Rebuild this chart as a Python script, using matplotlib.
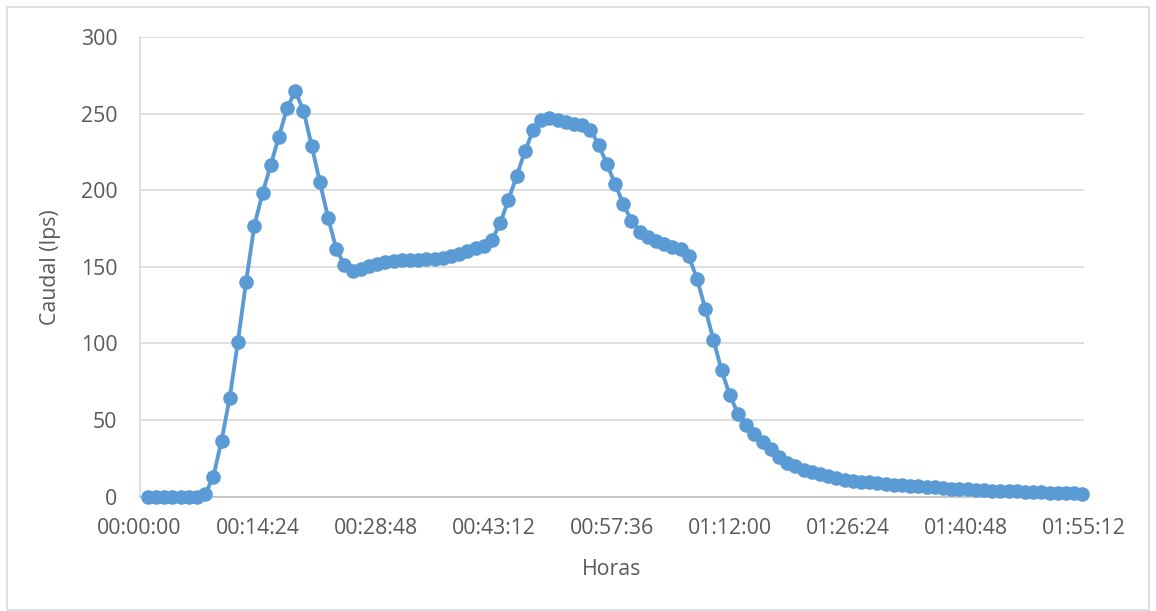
import matplotlib.pyplot as plt
import matplotlib.ticker as mticker
from matplotlib.patches import Rectangle
import numpy as np

# time in minutes (1-minute steps), flow in lps
minutes = list(range(1, 116))
caudal = [
    0, 0, 0, 0, 0, 0, 0, 1.5, 13, 36.5,
    64.6, 101.2, 140.4, 176.8, 198, 216.5, 235, 253.7, 264.6, 252,
    229, 205.3, 182, 161.7, 151, 147.6, 148.9, 150.4, 152, 153,
    153.7, 154.3, 154.5, 154.7, 155, 155.2, 155.9, 156.8, 158.5, 160.2,
    162, 163.8, 167.8, 178.5, 193.9, 209.2, 225.3, 239, 246, 247.4,
    246, 244.5, 243, 242.3, 239.5, 229.6, 217.2, 204.2, 191.1, 180.2,
    173, 169.8, 167.2, 165.1, 162.9, 161.4, 156.8, 142.2, 122.8, 102.5,
    82.4, 66.1, 54.2, 46.6, 41.1, 35.7, 30.8, 26, 22.3, 19.9,
    17.7, 16, 14.5, 13.4, 11.9, 11.2, 10.5, 9.9, 9.4, 8.9,
    8.4, 7.9, 7.5, 7.1, 6.7, 6.3, 6.0, 5.6, 5.3, 5.0,
    4.7, 4.5, 4.2, 4.0, 3.8, 3.6, 3.4, 3.2, 3.0, 2.8,
    2.6, 2.5, 2.3, 2.2, 2.0,
]
x_ticks_days = [0, 0.01, 0.02, 0.03, 0.04, 0.05, 0.06, 0.07, 0.08]
y_ticks = [0, 50, 100, 150, 200, 250, 300]

plt.rcParams['font.family'] = ['Open Sans', 'DejaVu Sans']

dias = np.array(minutes) / 1440.0

fig = plt.figure(figsize=(11.56, 6.11), dpi=100)
ax = fig.add_axes([0.1207, 0.1871, 0.9377 - 0.1207, 0.9394 - 0.1871])

ax.plot(dias, caudal, color='#5B9BD5', lw=2.8, marker='o', ms=10.5,
        markeredgewidth=0, zorder=3, clip_on=False)

ax.set_xlim(0, 0.08)
ax.set_ylim(0, 300)
ax.set_xticks(x_ticks_days)
ax.set_yticks(y_ticks)


def fmt_hms(v, pos):
    s = int(round(v * 86400))
    return f"{s // 3600:02d}:{(s % 3600) // 60:02d}:{s % 60:02d}"


ax.xaxis.set_major_formatter(mticker.FuncFormatter(fmt_hms))
ax.grid(axis='y', color='#d9d9d9', lw=1.2)
ax.set_axisbelow(True)
for s in ['top', 'right']:
    ax.spines[s].set_visible(False)
ax.spines['left'].set_color('#d9d9d9')
ax.spines['left'].set_linewidth(1.2)
ax.spines['bottom'].set_color('#bfbfbf')
ax.spines['bottom'].set_linewidth(1.2)
ax.tick_params(length=0, labelsize=15.3, colors='#595959')
ax.tick_params(axis='x', pad=15)
ax.tick_params(axis='y', pad=16)

ax.set_xlabel('Horas', fontsize=15.3, color='#595959', labelpad=15)
ax.set_ylabel('Caudal (lps)', fontsize=15.3, color='#595959', labelpad=14.5)

fig.patches.append(Rectangle((7 / 1156, 0.002), 1142 / 1156, 1 - 7 / 611 - 0.002,
                             transform=fig.transFigure, fill=False,
                             edgecolor='#d9d9d9', lw=1.2))

fig.savefig('out.png', dpi=100)
